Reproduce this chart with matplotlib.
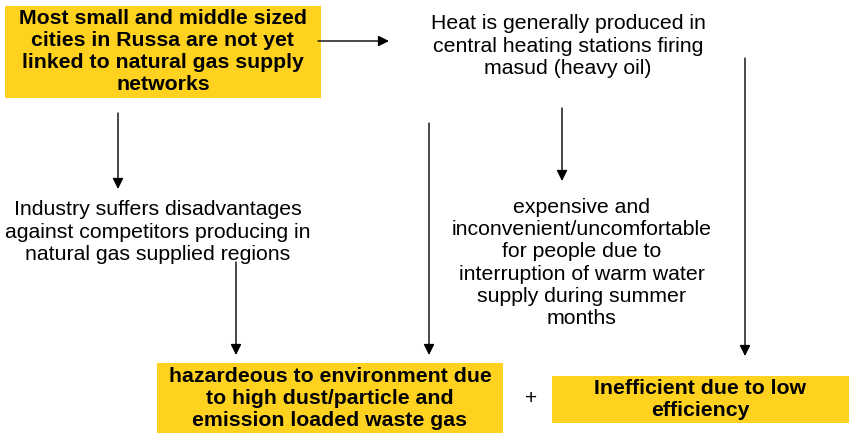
import matplotlib.pyplot as plt
from matplotlib.patches import Rectangle

plt.rcParams['font.family'] = ['Liberation Sans', 'DejaVu Sans']

# box texts (yellow, bold)
box_texts = [
    'Most small and middle sized\ncities in Russa are not yet\nlinked to natural gas supply\nnetworks',
    'hazardeous to environment due\nto high dust/particle and\nemission loaded waste gas',
    'Inefficient due to low\nefficiency',
]
box_rects = [(5, 6, 316, 92), (157, 363, 346, 70), (552, 376, 297, 47)]

# plain texts
plain_texts = [
    'Heat is generally produced in\ncentral heating stations firing\nmasud (heavy oil)',
    'Industry suffers disadvantages\nagainst competitors producing in\nnatural gas supplied regions',
    'expensive and\ninconvenient/uncomfortable\nfor people due to\ninterruption of warm water\nsupply during summer\nmonths',
]
plain_pos = [(568, 46), (158, 232), (582, 263)]

# arrows: (x0, y0, x1, y1)
arrows = [
    (318, 41, 389, 41),
    (118, 113, 118, 189),
    (236, 262, 236, 355),
    (429, 123, 429, 355),
    (562, 108, 562, 181),
    (745, 58, 745, 356),
]

fig = plt.figure(figsize=(8.49, 4.33), dpi=100)
ax = fig.add_axes([0, 0, 1, 1])
ax.set_xlim(0, 849)
ax.set_ylim(433, 0)
ax.axis('off')

yellow = '#FFD21F'
for (x, y, w, h), t in zip(box_rects, box_texts):
    ax.add_patch(Rectangle((x, y), w, h, facecolor=yellow, edgecolor='none'))
    ax.text(x + w / 2, y + h / 2, t, ha='center', va='center', fontsize=15.3,
            fontweight='bold', linespacing=1.2)

for (x, y), t in zip(plain_pos, plain_texts):
    ax.text(x, y, t, ha='center', va='center', fontsize=15.3, linespacing=1.22)

for x0, y0, x1, y1 in arrows:
    ax.annotate('', xy=(x1, y1), xytext=(x0, y0),
                arrowprops=dict(arrowstyle='-|>', color='black', lw=1,
                                mutation_scale=16, shrinkA=0, shrinkB=0))

ax.text(531, 398, '+', ha='center', va='center', fontsize=15)

fig.savefig('out.png', dpi=100)
